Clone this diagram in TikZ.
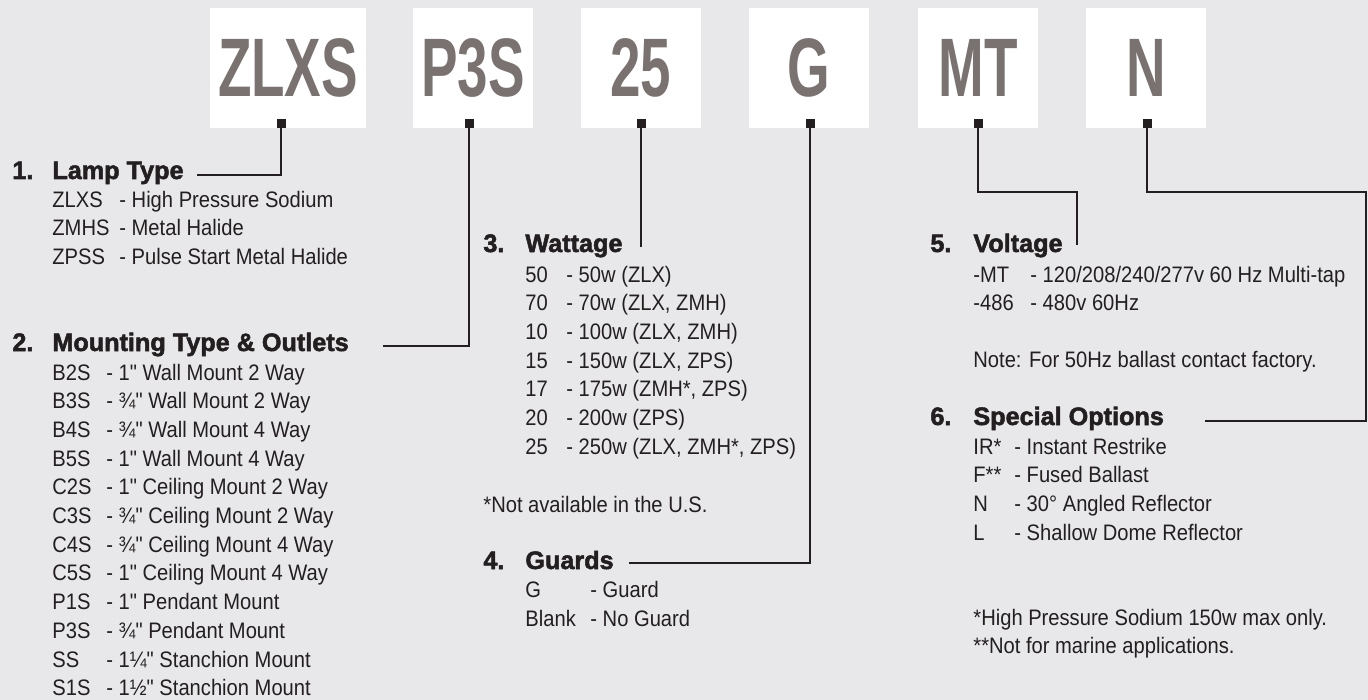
\documentclass[tikz,border=0pt]{standalone}
\usepackage{fontspec}
\setmainfont{Liberation Sans}
\newfontfamily\listfont{Liberation Sans}[FakeStretch=0.9]
\newfontfamily\headfont{Liberation Sans Bold}[FakeBold=2]
\newfontfamily\codefont{Liberation Sans Bold}[FakeStretch=0.66]
\usepackage{tikz}
\usetikzlibrary{positioning}
\definecolor{ink}{HTML}{231F20}
\definecolor{codegray}{HTML}{7A7270}
\definecolor{bg}{HTML}{E8E8EA}

\begin{document}
\begin{tikzpicture}[x=0.5pt, y=-0.5pt,
    codebox/.style={fill=white, minimum width=60pt, minimum height=60pt, inner sep=0pt,
                    font=\codefont\fontsize{41.5}{41.5}\selectfont, text=codegray},
    mk/.style={fill=ink, minimum size=4.5pt, inner sep=0pt},
    hd/.style={anchor=base west, inner sep=0pt, text=ink,
               font=\headfont\fontsize{12.6}{14}\selectfont},
    it/.style={anchor=base west, inner sep=0pt, text=ink,
               font=\listfont\fontsize{11.2}{13}\selectfont},
    ed/.style={draw=ink, line width=1pt}
  ]
    \fill[bg] (0,0) rectangle (1368,700);
    \useasboundingbox (0,0) rectangle (1368,700);

    \node[codebox, minimum width=78pt] (ZLXS) at (288,68) {ZLXS};
    \node[codebox] (P3S) at (473,68)   {P3S};
    \node[codebox] (W25) at (640.5,68) {25};
    \node[codebox] (G)   at (809,68)   {G};
    \node[codebox] (MT)  at (978,68)   {MT};
    \node[codebox] (N)   at (1146,68)  {N};

    \node[mk] (m1) at (281,123.5)  {};
    \node[mk] (m2) at (469,123.5)  {};
    \node[mk] (m3) at (641,123.5)  {};
    \node[mk] (m4) at (810,123.5)  {};
    \node[mk] (m5) at (978,123.5)  {};
    \node[mk] (m6) at (1147,123.5) {};

    \node[hd] (n1) at (12,179)  {1.}; \node[hd] (h1) at (52,179)  {Lamp Type};
    \node[hd] (n2) at (12,351)  {2.}; \node[hd] (h2) at (52,351)  {Mounting Type \& Outlets};
    \node[hd] (n3) at (483,252) {3.}; \node[hd] (h3) at (525,252) {Wattage};
    \node[hd] (n4) at (483,569) {4.}; \node[hd] (h4) at (525,569) {Guards};
    \node[hd] (n5) at (930,252) {5.}; \node[hd] (h5) at (973,252) {Voltage};
    \node[hd] (n6) at (930,425) {6.}; \node[hd] (h6) at (973,425) {Special Options};

    \coordinate (e1) at (197,175);
    \coordinate (e2) at (383,346);
    \coordinate (e3) at (641,247);
    \coordinate (e4) at (629,563);
    \coordinate (b5) at (1077,192); \coordinate (e5) at (1077,245);
    \coordinate (b6) at (1366,192); \coordinate (e6) at (1205,421);
    \draw[ed] (m1.south) |- (e1);
    \draw[ed] (m2.south) |- (e2);
    \draw[ed] (m3.south) -- (e3);
    \draw[ed] (m4.south) |- (e4);
    \draw[ed] (m5.south) |- (b5) -- (e5);
    \draw[ed] (m6.south) |- (b6) |- (e6);

    \foreach \c/\d [count=\i] in {ZLXS/High Pressure Sodium, ZMHS/Metal Halide,
        ZPSS/Pulse Start Metal Halide} {
      \node[it] (c1-\i) at (52,{207+28.7*(\i-1)})  {\c};
      \node[it] (d1-\i) at (119,{207+28.7*(\i-1)}) {- \d};
    }
    \foreach \c/\d [count=\i] in {B2S/1" Wall Mount 2 Way, B3S/¾" Wall Mount 2 Way,
        B4S/¾" Wall Mount 4 Way, B5S/1" Wall Mount 4 Way, C2S/1" Ceiling Mount 2 Way,
        C3S/¾" Ceiling Mount 2 Way, C4S/¾" Ceiling Mount 4 Way, C5S/1" Ceiling Mount 4 Way,
        P1S/1" Pendant Mount, P3S/¾" Pendant Mount, SS/1¼" Stanchion Mount,
        S1S/1½" Stanchion Mount} {
      \node[it] (c2-\i) at (52,{380+28.7*(\i-1)})  {\c};
      \node[it] (d2-\i) at (106,{380+28.7*(\i-1)}) {- \d};
    }
    \foreach \c/\d [count=\i] in {50/50w (ZLX), 70/{70w (ZLX, ZMH)}, 10/{100w (ZLX, ZMH)},
        15/{150w (ZLX, ZPS)}, 17/{175w (ZMH*, ZPS)}, 20/200w (ZPS),
        25/{250w (ZLX, ZMH*, ZPS)}} {
      \node[it] (c3-\i) at (525,{282+28.7*(\i-1)}) {\c};
      \node[it] (d3-\i) at (566,{282+28.7*(\i-1)}) {- \d};
    }
    \node[it] (f3) at (483,512) {*Not available in the U.S.};

    \node[it] (c4-1) at (525,597) {G};     \node[it] (d4-1) at (590,597) {- Guard};
    \node[it] (c4-2) at (525,626) {Blank}; \node[it] (d4-2) at (590,626) {- No Guard};

    \node[it] (c5-1) at (973,282) {-MT};  \node[it] (d5-1) at (1030,282) {- 120/208/240/277v 60 Hz Multi-tap};
    \node[it] (c5-2) at (973,310) {-486}; \node[it] (d5-2) at (1030,310) {- 480v 60Hz};
    \node[it] (f5) at (973,367) {Note: For 50Hz ballast contact factory.};

    \foreach \c/\d [count=\i] in {IR*/Instant Restrike, F**/Fused Ballast,
        N/30° Angled Reflector, L/Shallow Dome Reflector} {
      \node[it] (c6-\i) at (973,{454+28.7*(\i-1)})  {\c};
      \node[it] (d6-\i) at (1014,{454+28.7*(\i-1)}) {- \d};
    }
    \node[it] (f6a) at (973,625) {*High Pressure Sodium 150w max only.};
    \node[it] (f6b) at (973,653) {**Not for marine applications.};
  \end{tikzpicture}
\end{document}
